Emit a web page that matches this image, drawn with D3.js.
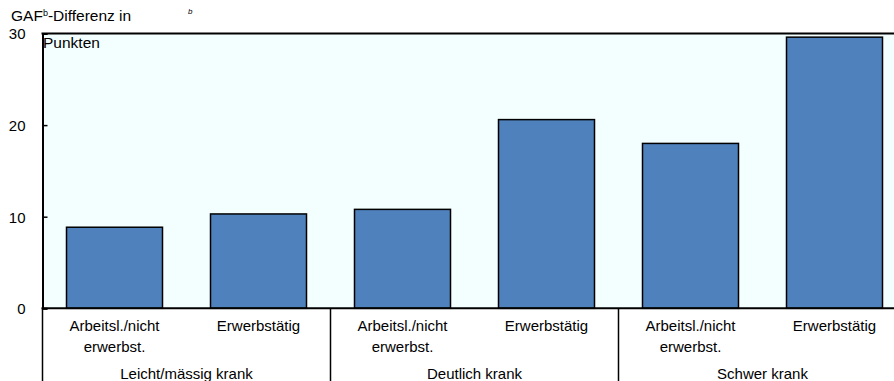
<!DOCTYPE html>
<html><head><meta charset="utf-8">
<script src="https://cdn.jsdelivr.net/npm/d3@7"></script>
<style>body{margin:0;background:#fff}svg{display:block;font-family:"Liberation Sans",Arial,sans-serif}</style>
</head><body><svg id="c" width="894" height="381"></svg>
<script>
const categories = [
  ["Arbeitsl./nicht","erwerbst."],["Erwerbstätig"],
  ["Arbeitsl./nicht","erwerbst."],["Erwerbstätig"],
  ["Arbeitsl./nicht","erwerbst."],["Erwerbstätig"]
];
const groups = ["Leicht/mässig krank","Deutlich krank","Schwer krank"];
const values = [8.85, 10.3, 10.8, 20.6, 18.0, 29.6];
const yTicks = [0, 10, 20, 30];

(function(){
const svg = d3.select("#c");
const pL = 42.5, pR = 906.5, pT = 33.5, pB = 308.3;
const x = d3.scaleBand().domain(d3.range(values.length)).range([pL, pR]).paddingInner(1/3).paddingOuter(1/6);
const y = d3.scaleLinear().domain([0, 30]).range([pB, pT]);

svg.append("rect").attr("x", pL).attr("y", pT).attr("width", pR-pL).attr("height", pB-pT).attr("fill", "#f3ffff");

svg.selectAll("rect.bar").data(values).join("rect").attr("class","bar")
  .attr("x", (d,i)=>x(i)).attr("width", x.bandwidth())
  .attr("y", d=>y(d)).attr("height", d=>y(0)-y(d))
  .attr("fill", "#4f81bd").attr("stroke", "#000").attr("stroke-width", 1.5);

const ya = svg.append("g").attr("transform", `translate(${pL},0)`)
  .call(d3.axisRight(y).tickValues(yTicks).tickSize(5).tickFormat(d3.format("d")));
ya.select(".domain").attr("stroke-width", 2).attr("stroke","#000");
ya.selectAll(".tick line").attr("stroke","#000").attr("stroke-width",1.5);
ya.selectAll(".tick text").attr("x", -17).attr("text-anchor","end").attr("dy","0.36em")
  .attr("font-size", 15).attr("fill","#000").attr("font-family","'Liberation Sans',Arial,sans-serif");

svg.append("line").attr("x1", pL-1).attr("x2", 894).attr("y1", pT).attr("y2", pT).attr("stroke","#000").attr("stroke-width",2);
svg.append("line").attr("x1", pL-1).attr("x2", 894).attr("y1", pB).attr("y2", pB).attr("stroke","#000").attr("stroke-width",2);

const cat = svg.append("g").attr("font-size", 15).attr("fill","#000").attr("text-anchor","middle");
categories.forEach((lines,i)=>{
  lines.forEach((t,j)=>{
    cat.append("text").attr("x", x(i)+x.bandwidth()/2).attr("y", 331 + j*21).text(t);
  });
});
const step = x.step();
groups.forEach((g,k)=>{
  const x0 = pL + k*2*step;
  svg.append("line").attr("x1", x0).attr("x2", x0).attr("y1", pB).attr("y2", 381).attr("stroke","#000").attr("stroke-width",1.5);
  cat.append("text").attr("x", x0 + step).attr("y", 379).text(g);
});

const tt = svg.append("text").attr("x", 11).attr("y", 21).attr("font-size", 15.5).attr("fill","#000");
tt.append("tspan").text("GAF");
tt.append("tspan").attr("font-size", 9).attr("dy", -5).text("b");
tt.append("tspan").attr("dy", 5).text("-Differenz in");
svg.append("text").attr("x", 43).attr("y", 48).attr("font-size", 15.5).attr("fill","#000").text("Punkten");
svg.append("text").attr("x", 188).attr("y", 14).attr("font-size", 8).attr("font-style","italic").attr("fill","#000").text("b");
})();
</script></body></html>
